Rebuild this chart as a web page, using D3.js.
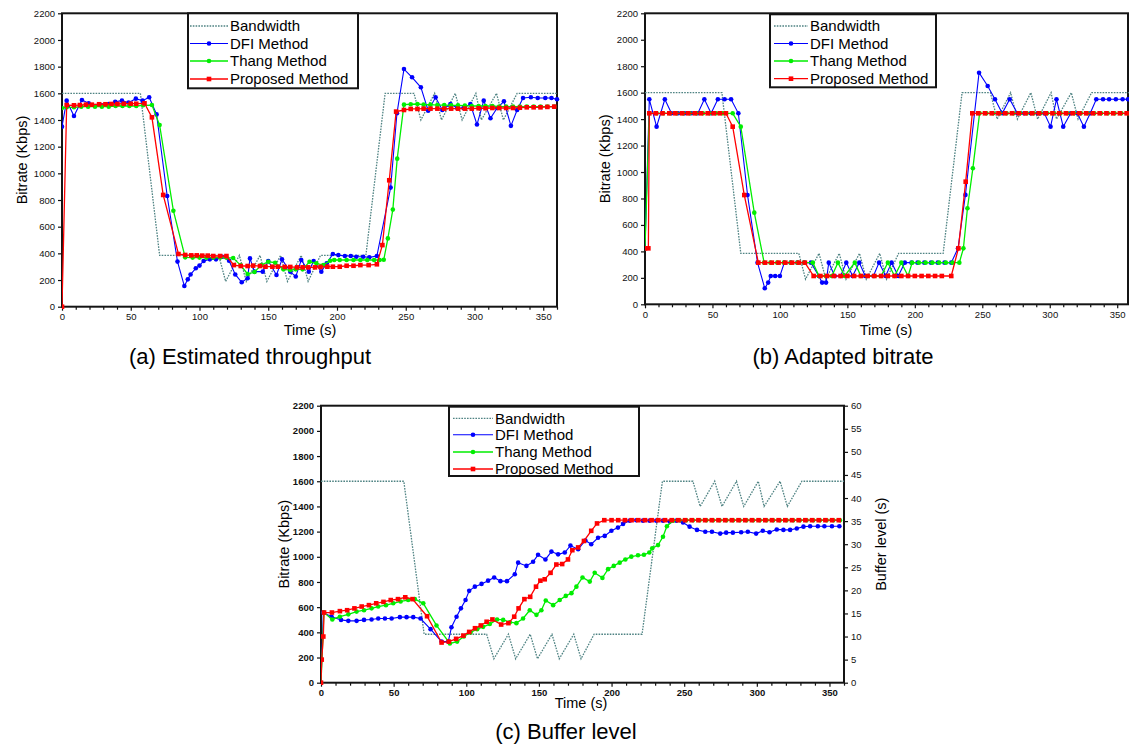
<!DOCTYPE html>
<html>
<head>
<meta charset="utf-8">
<script src="https://cdn.jsdelivr.net/npm/d3@7"></script>
<style>
body { margin: 0; background: #fff; }
text { font-family: "Liberation Sans", Arial, sans-serif; }
</style>
</head>
<body>
<svg id="fig" width="1129" height="745"></svg>
<script>
// Tick values
var xTicks = [0, 50, 100, 150, 200, 250, 300, 350];
var xMinor = [10, 20, 30, 40, 60, 70, 80, 90, 110, 120, 130, 140, 160, 170, 180, 190, 210, 220, 230, 240, 260, 270, 280, 290, 310, 320, 330, 340, 360];
var yTicks = [0, 200, 400, 600, 800, 1000, 1200, 1400, 1600, 1800, 2000, 2200];
var bufTicks = [0, 5, 10, 15, 20, 25, 30, 35, 40, 45, 50, 55, 60];

var names = ["Bandwidth", "DFI Method", "Thang Method", "Proposed Method"];

// Bandwidth trace (time s, Kbps) - same in all panels
var bandwidth = [[0,1600],[57,1600],[71,385],[114,385],[119,190],[129,385],[134,190],[144,385],[149,190],[159,385],[164,190],[174,385],[179,190],[188,385],[221,385],[235,1600],[256,1600],[261,1400],[271,1600],[276,1400],[286,1600],[291,1400],[301,1600],[305,1400],[316,1600],[321,1400],[331,1600],[360,1600]];

// (a) estimated throughput, Kbps
var aDfi = [[0,1350],[3.4,1545],[8.7,1430],[14.5,1550],[19.4,1525],[24,1505],[29,1510],[34,1520],[38.7,1537],[43.6,1545],[48.4,1530],[53.7,1560],[58.6,1545],[63.4,1570],[68.8,1442],[76.5,830],[84,338],[89,155],[91.5,205],[93.5,242],[97.3,288],[100,308],[103,343],[107.5,355],[112,355],[116.7,375],[121.5,345],[126,242],[130.7,183],[135,213],[136.7,362],[140,263],[146,263],[150,343],[156,238],[160,355],[166,263],[170,226],[174,350],[179.5,263],[183,343],[188.6,263],[192.5,325],[197,395],[201,387],[205.7,380],[210,380],[214,375],[219,375],[223.5,370],[229,380],[239,893],[243.6,1450],[248.7,1782],[254.6,1720],[261,1645],[266.3,1470],[271.7,1570],[276.6,1475],[282.5,1520],[287.4,1490],[292,1490],[297,1520],[301.8,1366],[306.7,1545],[311.6,1413],[316.5,1490],[321.4,1540],[326.5,1356],[331,1475],[335.3,1565],[341,1570],[346,1565],[351.5,1565],[356,1565],[360,1555]];
var aThang = [[0,1490],[3.4,1495],[8.7,1495],[14,1500],[19,1500],[24,1500],[29,1500],[34,1500],[39,1505],[44,1505],[49,1505],[54,1505],[59,1510],[65.4,1512],[71,1362],[81,720],[89.6,370],[95,368],[100,368],[105,368],[110,368],[115,368],[119.6,368],[124.5,365],[130,310],[135,245],[140,260],[145,312],[150,337],[155,330],[161,280],[166,275],[170,280],[175,280],[180,337],[185,325],[190,312],[195,345],[198,350],[202,350],[207,350],[212,350],[217,350],[222,350],[227,350],[231,350],[234,352],[237,512],[240.6,728],[243.8,1110],[248.7,1515],[253.6,1518],[258.5,1520],[263,1515],[268,1515],[273,1512],[278,1512],[283,1510],[288,1510],[293,1508],[298,1505],[303,1505],[308,1505],[313,1505],[318,1500],[323,1500],[328,1500],[333,1500],[338,1500],[343,1500],[348,1500],[353,1500],[358,1500]];
var aProp = [[0,0],[3.4,1512],[8.7,1510],[13,1512],[17.4,1515],[21.7,1515],[27,1518],[31.6,1518],[36,1520],[40.3,1520],[45,1522],[50,1522],[54,1522],[60,1525],[65.4,1420],[73.6,838],[84.7,395],[89.6,388],[94,385],[98,385],[102,383],[106,383],[110,380],[115,380],[119.6,380],[125,312],[130,305],[135,305],[139,308],[144,305],[148,300],[153,300],[157,300],[162,298],[166,298],[171,295],[175,295],[179,295],[184,295],[188,298],[193,300],[197,300],[202,300],[207,307],[212,307],[217,312],[223,312],[229,318],[233,462],[238,948],[243,1463],[248.7,1475],[253.6,1483],[258.5,1483],[263,1485],[268,1485],[273,1485],[278,1485],[283,1485],[288,1485],[293,1485],[298,1485],[303,1488],[308,1488],[313,1490],[318,1490],[323,1490],[328,1490],[333,1492],[338,1495],[343,1495],[348,1495],[353,1498],[358,1500]];

// (b) adapted bitrate, Kbps
var bDfi = [[0,423],[3.2,1550],[8.6,1343],[14.7,1550],[19.6,1444],[24.5,1444],[29.4,1444],[34.3,1444],[39.2,1444],[44,1550],[49,1444],[54,1550],[59,1550],[63.8,1550],[69.2,1444],[76,826],[83.4,315],[88.8,121],[91.3,164],[93.2,214],[96.5,214],[100,214],[103.3,315],[108,315],[113,315],[118,315],[123,315],[128.8,214],[131.3,164],[134.2,164],[136.2,315],[140.6,214],[145,214],[149.2,315],[153.9,214],[158.8,315],[163.2,214],[169.3,214],[173.5,315],[178.4,214],[182.8,315],[187.7,214],[192.6,315],[197.5,315],[202,315],[207,315],[212,315],[217,315],[222,315],[227,315],[232,423],[237.5,827],[247.6,1751],[254,1650],[259.4,1550],[264.8,1444],[270.3,1550],[276,1444],[281,1444],[286,1444],[291,1444],[296,1444],[300.6,1343],[305,1550],[310,1343],[315.5,1444],[320.4,1444],[325.3,1343],[330,1444],[334.5,1550],[339.5,1550],[344,1550],[349,1550],[354,1550],[358,1550]];
var bThang = [[0,423],[3.2,1444],[8.6,1444],[13.5,1444],[18.4,1444],[23.3,1444],[28.2,1444],[33.1,1444],[38,1444],[42.9,1444],[47.8,1444],[52.7,1444],[57.6,1444],[65,1444],[71,1343],[81,693],[88.3,315],[93,315],[98,315],[103,315],[108,315],[113,315],[118,315],[124.4,315],[129,214],[134,214],[138.5,214],[143,315],[148,214],[155.5,315],[160,214],[165,214],[170,214],[175,214],[180,315],[185,214],[190,315],[195,214],[198,315],[203,315],[208,315],[213,315],[218,315],[223,315],[228,315],[233,315],[236,423],[239,726],[243,1028],[248,1444],[253,1444],[258,1444],[263,1444],[268,1444],[273,1444],[278,1444],[283,1444],[288,1444],[293,1444],[298,1444],[303,1444],[308,1444],[313,1444],[318,1444],[323,1444],[328,1444],[333,1444],[338,1444],[343,1444],[348,1444],[353,1444],[358,1444]];
var bProp = [[0,423],[2.5,423],[3.2,1444],[8,1444],[13,1444],[18,1444],[22.5,1444],[27.5,1444],[32,1444],[37,1444],[41.5,1444],[46.5,1444],[51,1444],[55.5,1444],[60,1444],[65,1343],[73.6,826],[84,315],[89,315],[94,315],[99,315],[104,315],[109,315],[114,315],[118.5,315],[125,214],[130,214],[135,214],[140,214],[145,214],[150,214],[155,214],[160,214],[165,214],[170,214],[175,214],[180,214],[185,214],[190,214],[195,214],[200,214],[205,214],[210,214],[215,214],[220,214],[227,214],[232.3,423],[237.7,927],[242.6,1444],[247,1444],[252,1444],[257,1444],[262,1444],[267,1444],[272,1444],[277,1444],[282,1444],[287,1444],[292,1444],[297,1444],[302,1444],[307,1444],[312,1444],[317,1444],[322,1444],[327,1444],[332,1444],[337,1444],[342,1444],[347,1444],[352,1444],[357,1444]];

// (c) buffer level, seconds
var cDfi = [[0,0],[1.6,15.2],[7.3,14.3],[13.8,13.6],[18.8,13.4],[24.5,13.4],[29.6,13.6],[34.8,13.7],[39.4,13.9],[44,13.9],[48.6,13.9],[54.3,14.2],[58.9,14.2],[63.5,14.2],[68.5,13.9],[75.4,11.6],[83,8.9],[87.6,8.9],[89.8,12],[93.3,14.3],[96.3,16.1],[99.5,17.9],[102,19.9],[105.9,20.8],[110.5,21.4],[115,22.1],[119.2,22.8],[123.5,22],[128,22],[133.4,23.5],[135.7,26],[141.4,25.3],[146,26.2],[149.4,27.7],[154.5,26.7],[158.6,28.4],[163.2,27.8],[167.8,28.2],[171.7,29.7],[177,28.9],[182,30.8],[186,30],[190.7,31.4],[195.3,31.8],[199.9,32.9],[204.4,33.6],[207.9,34.4],[212.5,35.1],[217,35.2],[221.6,35.1],[226.2,35.1],[230.8,35.1],[235.4,35.1],[240,34.9],[244.6,35.1],[249.2,34.7],[253.7,33.8],[258.8,33.1],[264.5,32.7],[269.1,32.7],[274.8,32.3],[278.9,32.5],[283.5,32.5],[289.2,32.6],[293.8,32.7],[299.5,32.3],[304.1,32.9],[308.7,32.6],[313.7,33.2],[318.3,33.1],[322.9,33.1],[327.5,33.4],[332.1,33.8],[336.7,33.9],[342,33.9],[346.5,33.9],[351.7,33.9],[356.8,33.9]];
var cThang = [[0,0],[2,15.2],[7.8,13.7],[13,14.3],[18.8,14.8],[24.5,15.4],[29.6,15.7],[34.8,16.1],[39.4,16.5],[44.7,16.8],[49.7,17.2],[54.8,17.6],[60,17.9],[64.6,18.1],[70.4,17.2],[79.5,12.4],[88.7,8.5],[93.7,8.9],[98.3,10],[102.9,10.9],[107.5,11.6],[111.6,12.1],[116.2,12.7],[121.2,13.7],[125.4,13.6],[130,13.1],[134.5,12.9],[139.1,13.9],[143.7,15.7],[148.3,14.7],[151.7,15.7],[154.7,17.8],[159.8,16.8],[164.3,17.9],[168.5,18.8],[172.4,19.4],[175.8,20.8],[180,22.8],[185,21.9],[188.4,23.8],[193.7,22.7],[197.6,24.6],[201.5,25.3],[205.6,26],[209.5,26.7],[213.6,27.3],[218.2,27.6],[222.3,27.7],[226,28.2],[228,29.1],[232,29.8],[235.4,31.6],[238.1,33.9],[242.3,35.1],[246.8,35.2],[251.4,35.2],[256,35.2],[260.6,35.2],[265.2,35.2],[269.8,35.2],[274.4,35.2],[279,35.2],[283.6,35.2],[288.2,35.2],[292.8,35.2],[297.4,35.2],[302,35.2],[306.6,35.2],[311.2,35.2],[315.8,35.2],[320.4,35.2],[325,35.2],[329.6,35.2],[334.2,35.2],[338.8,35.2],[343.4,35.2],[348,35.2],[352.6,35.2],[357.2,35.2]];
var cProp = [[0,0],[0.5,5],[1.6,10],[2.1,15.2],[7.5,15.2],[13,15.5],[18,15.7],[23,16.1],[28,16.5],[33,16.8],[38,17.2],[43,17.5],[48,17.9],[53,18.1],[58,18.5],[63,18.1],[73,14.4],[83,8.7],[88,8.9],[93,9.5],[98,10.2],[102,11],[106,11.8],[110,12.4],[114,13.2],[118,13.7],[124,12.6],[129,12.9],[133,14.3],[136,16.1],[140,18.1],[144,18.6],[148,20.8],[151,22.1],[154,22.4],[158,23.8],[162,25.6],[166,25.7],[170,26.7],[173,28.7],[177,29.3],[181,30.7],[186,32.9],[190,34.5],[195,35.2],[200,35.2],[204.6,35.2],[209.2,35.2],[213.8,35.2],[218.4,35.2],[223,35.2],[227.6,35.2],[232.2,35.2],[236.8,35.2],[241.4,35.2],[246,35.2],[250.6,35.2],[255.2,35.2],[259.8,35.2],[264.4,35.2],[269,35.2],[273.6,35.2],[278.2,35.2],[282.8,35.2],[287.4,35.2],[292,35.2],[296.6,35.2],[301.2,35.2],[305.8,35.2],[310.4,35.2],[315,35.2],[319.6,35.2],[324.2,35.2],[328.8,35.2],[333.4,35.2],[338,35.2],[342.6,35.2],[347.2,35.2],[351.8,35.2],[356.4,35.2]];

var styles = [
  { color: "#4f8383", dash: "1.6,1.2", marker: null, width: 1.3 },
  { color: "#0000ff", dash: null, marker: "circle", width: 1.1 },
  { color: "#00ee00", dash: null, marker: "circle", width: 1.3 },
  { color: "#ff0000", dash: null, marker: "square", width: 1.3 }
];

var svg = d3.select("#fig");

var panels = [
  { left: 62, right: 557, top: 13.3, bottom: 306.7, xmax: 360,
    title: "(a) Estimated throughput", titleX: 250, titleY: 356,
    xLabelX: 310, xLabelY: 335, yLabelX: 22,
    legend: { x: 188, y: 13.3, w: 170, h: 75, l0: 190, l1: 228, tx: 230, rows: [26, 43.5, 61, 79] },
    data: [bandwidth, aDfi, aThang, aProp], bold: false, buffer: false },
  { left: 645, right: 1128, top: 13.3, bottom: 304.3, xmax: 358,
    title: "(b) Adapted bitrate", titleX: 843, titleY: 356,
    xLabelX: 886, xLabelY: 335, yLabelX: 605,
    legend: { x: 770, y: 14.3, w: 166, h: 73, l0: 774, l1: 808, tx: 810, rows: [26, 43.5, 61, 78.7] },
    data: [bandwidth, bDfi, bThang, bProp], bold: false, buffer: false },
  { left: 321, right: 844, top: 405.7, bottom: 682.7, xmax: 360,
    title: "(c) Buffer level", titleX: 566, titleY: 731,
    xLabelX: 581, xLabelY: 708, yLabelX: 284,
    legend: { x: 449, y: 406.7, w: 190, h: 69.3, l0: 453, l1: 493, tx: 495, rows: [418.3, 434.8, 452, 469] },
    data: [bandwidth, cDfi, cThang, cProp], bold: true, buffer: true }
];

panels.forEach(function(p, pi) {
  var g = svg.append("g");
  var x = d3.scaleLinear().domain([0, p.xmax]).range([p.left, p.right]);
  var y = d3.scaleLinear().domain([0, 2200]).range([p.bottom, p.top]);
  var yb = d3.scaleLinear().domain([0, 60]).range([p.bottom, p.top]);

  var clipId = "clip" + pi;
  g.append("clipPath").attr("id", clipId).append("rect")
    .attr("x", p.left).attr("y", p.top - 4)
    .attr("width", p.right - p.left + 4).attr("height", p.bottom - p.top + 8);

  // axes
  var xa = g.append("g").attr("transform", "translate(0," + p.bottom + ")")
    .call(d3.axisBottom(x).tickValues(xTicks).tickSize(4).tickPadding(3).tickFormat(d3.format("d")));
  g.append("g").attr("transform", "translate(0," + p.bottom + ")")
    .call(d3.axisBottom(x).tickValues(xMinor.filter(function(d) { return d <= p.xmax; })).tickSize(3).tickFormat(""));
  var ya = g.append("g").attr("transform", "translate(" + p.left + ",0)")
    .call(d3.axisLeft(y).tickValues(yTicks).tickSize(4).tickPadding(3).tickFormat(d3.format("d")));
  [xa, ya].forEach(function(a) {
    a.selectAll("text").style("font-size", "9.5px").style("fill", "#111")
      .style("font-weight", p.bold ? "bold" : "normal");
  });
  if (p.buffer) {
    var ra = g.append("g").attr("transform", "translate(" + p.right + ",0)")
      .call(d3.axisRight(yb).tickValues(bufTicks).tickSize(4).tickPadding(3).tickFormat(d3.format("d")));
    ra.selectAll("text").style("font-size", "9.5px").style("fill", "#111");
    g.append("text")
      .attr("transform", "translate(881," + ((p.top + p.bottom) / 2) + ") rotate(-90)")
      .attr("text-anchor", "middle").attr("dy", "0.35em")
      .style("font-size", "14.5px").text("Buffer level (s)");
  }
  g.selectAll(".domain").remove();
  g.selectAll(".tick line").attr("stroke", "#111").attr("stroke-width", 1.2);

  // frame
  g.append("rect").attr("x", p.left).attr("y", p.top)
    .attr("width", p.right - p.left).attr("height", p.bottom - p.top)
    .attr("fill", "none").attr("stroke", "#141414").attr("stroke-width", 2);

  // axis titles
  g.append("text").attr("x", p.xLabelX).attr("y", p.xLabelY)
    .attr("text-anchor", "middle").style("font-size", "14.5px").text("Time (s)");
  g.append("text")
    .attr("transform", "translate(" + p.yLabelX + "," + ((p.top + p.bottom) / 2) + ") rotate(-90)")
    .attr("text-anchor", "middle").attr("dy", "0.35em")
    .style("font-size", "14.5px").text("Bitrate (Kbps)");
  g.append("text").attr("x", p.titleX).attr("y", p.titleY)
    .attr("text-anchor", "middle").attr("dy", "0.35em")
    .style("font-size", "22px").text(p.title);

  // series
  var plot = g.append("g").attr("clip-path", "url(#" + clipId + ")");
  p.data.forEach(function(d, si) {
    var st = styles[si];
    var yy = (p.buffer && si > 0) ? yb : y;
    var line = d3.line().x(function(v) { return x(v[0]); }).y(function(v) { return yy(v[1]); });
    plot.append("path").datum(d)
      .attr("d", line).attr("fill", "none")
      .attr("stroke", st.color).attr("stroke-width", st.width)
      .attr("stroke-dasharray", st.dash);
    if (st.marker == "circle") {
      plot.selectAll(".m" + si).data(d).enter().append("circle")
        .attr("cx", function(v) { return x(v[0]); })
        .attr("cy", function(v) { return yy(v[1]); })
        .attr("r", 2.3).attr("fill", st.color);
    } else if (st.marker == "square") {
      plot.selectAll(".m" + si).data(d).enter().append("rect")
        .attr("x", function(v) { return x(v[0]) - 2.3; })
        .attr("y", function(v) { return yy(v[1]) - 2.3; })
        .attr("width", 4.6).attr("height", 4.6).attr("fill", st.color);
    }
  });

  // legend
  var L = p.legend;
  var lg = g.append("g");
  lg.append("rect").attr("x", L.x).attr("y", L.y).attr("width", L.w).attr("height", L.h)
    .attr("fill", "#fff").attr("stroke", "#141414").attr("stroke-width", 2);
  names.forEach(function(n, i) {
    var st = styles[i];
    var ry = L.rows[i];
    lg.append("line").attr("x1", L.l0).attr("x2", L.l1).attr("y1", ry).attr("y2", ry)
      .attr("stroke", st.color).attr("stroke-width", st.width)
      .attr("stroke-dasharray", st.dash);
    var cx = (L.l0 + L.l1) / 2;
    if (st.marker == "circle") {
      lg.append("circle").attr("cx", cx).attr("cy", ry).attr("r", 2.3).attr("fill", st.color);
    } else if (st.marker == "square") {
      lg.append("rect").attr("x", cx - 2.3).attr("y", ry - 2.3).attr("width", 4.6).attr("height", 4.6).attr("fill", st.color);
    }
    lg.append("text").attr("x", L.tx).attr("y", ry).attr("dy", "0.36em")
      .style("font-size", "15px").text(n);
  });
});
</script>
</body>
</html>
